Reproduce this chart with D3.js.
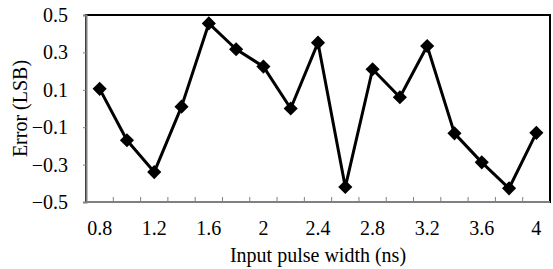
<!DOCTYPE html>
<html>
<head>
<meta charset="utf-8">
<script src="https://cdn.jsdelivr.net/npm/d3@7"></script>
<style>
  body { margin: 0; background: #fff; }
  svg text { font-family: "Liberation Serif", "Times New Roman", "DejaVu Serif", serif !important; fill: #000; }
</style>
</head>
<body>
<div id="chart"></div>
<script>
// pulse widths (ns) and measured error (LSB)
const widths = [0.8, 1.0, 1.2, 1.4, 1.6, 1.8, 2.0, 2.2, 2.4, 2.6, 2.8, 3.0, 3.2, 3.4, 3.6, 3.8, 4.0];
const errors = [0.105, -0.17, -0.34, 0.01, 0.455, 0.317, 0.224, 0.0, 0.352, -0.42, 0.21, 0.06, 0.334, -0.133, -0.288, -0.427, -0.13];
const yTicks = [0.5, 0.3, 0.1, -0.1, -0.3, -0.5];
const xLabels = ["0.8", "1.2", "1.6", "2", "2.4", "2.8", "3.2", "3.6", "4"];

const width = 553, height = 269;
const margin = { top: 15, right: 3, bottom: 67, left: 86 };
const fs = 20;
const serif = "'Liberation Serif', 'Times New Roman', serif";

const svg = d3.select("#chart").append("svg")
    .attr("width", width)
    .attr("height", height)
    .attr("font-family", serif);

const x = d3.scaleBand()
    .domain(widths.map(String))
    .range([margin.left, width - margin.right]);

const y = d3.scaleLinear()
    .domain([-0.5, 0.5])
    .range([height - margin.bottom, margin.top]);

// plot area box
svg.append("rect")
    .attr("x", margin.left)
    .attr("y", margin.top)
    .attr("width", width - margin.right - margin.left)
    .attr("height", height - margin.bottom - margin.top)
    .attr("fill", "none")
    .attr("stroke", "#000")
    .attr("stroke-width", 2);

// y axis
const yAxis = svg.append("g")
    .attr("transform", `translate(${margin.left},0)`)
    .call(d3.axisLeft(y).tickValues(yTicks).tickSize(3).tickPadding(15).tickFormat(d3.format("")));
yAxis.attr("font-family", serif).attr("font-size", fs);
yAxis.select(".domain").attr("stroke", "#808080").attr("stroke-width", 2);
yAxis.selectAll(".tick line").attr("stroke", "#808080");
yAxis.selectAll("text").style("font-family", serif).attr("font-size", fs);

// x axis: category axis, ticks between categories
const xg = svg.append("g")
    .attr("transform", `translate(0,${height - margin.bottom})`);
xg.append("line")
    .attr("x1", margin.left).attr("x2", width - margin.right)
    .attr("stroke", "#808080").attr("stroke-width", 2);
xg.selectAll(".tk")
    .data(widths.slice(1))
    .join("line")
    .attr("x1", d => x(String(d)))
    .attr("x2", d => x(String(d)))
    .attr("y1", 0).attr("y2", -5)
    .attr("stroke", "#808080");
xg.selectAll(".lbl")
    .data(widths.filter((d, i) => i % 2 === 0))
    .join("text")
    .attr("x", d => x(String(d)) + x.bandwidth() / 2)
    .attr("y", 33)
    .attr("text-anchor", "middle")
    .attr("font-size", fs)
    .style("font-family", serif)
    .text((d, i) => xLabels[i]);

// line
const line = d3.line()
    .x((d, i) => x(String(widths[i])) + x.bandwidth() / 2)
    .y(d => y(d));

svg.append("path")
    .datum(errors)
    .attr("fill", "none")
    .attr("stroke", "#000")
    .attr("stroke-width", 3)
    .attr("stroke-linejoin", "round")
    .attr("d", line);

svg.selectAll(".pt")
    .data(errors)
    .join("path")
    .attr("transform", (d, i) => `translate(${x(String(widths[i])) + x.bandwidth() / 2},${y(d)}) rotate(45)`)
    .attr("d", "M-5,-5H5V5H-5Z")
    .attr("fill", "#000");

// titles
svg.append("text")
    .attr("x", (margin.left + width - margin.right) / 2)
    .attr("y", 262)
    .attr("text-anchor", "middle")
    .attr("font-size", fs)
    .style("font-family", serif)
    .text("Input pulse width (ns)");

svg.append("text")
    .attr("transform", `translate(27,${(margin.top + height - margin.bottom) / 2}) rotate(-90)`)
    .attr("text-anchor", "middle")
    .attr("font-size", fs)
    .style("font-family", serif)
    .text("Error (LSB)");
</script>
</body>
</html>
